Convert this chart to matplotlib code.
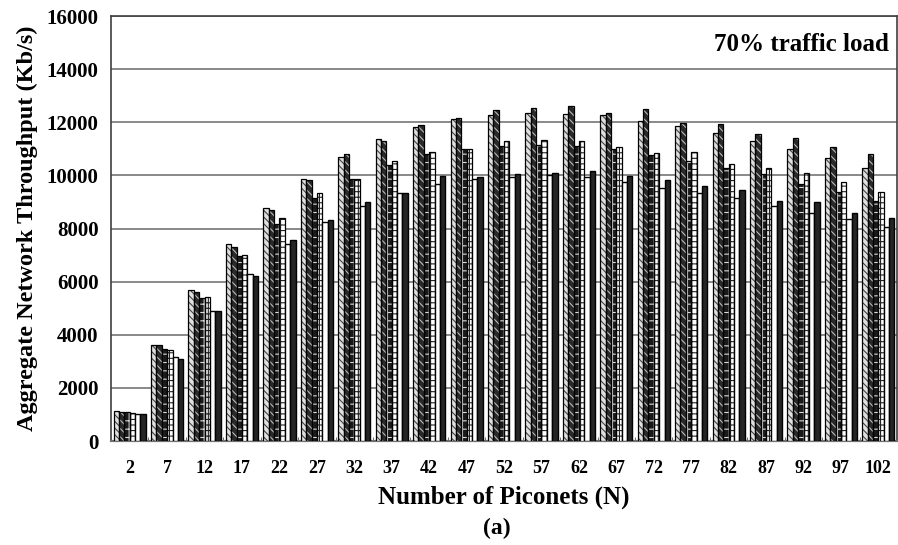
import matplotlib
matplotlib.use("Agg")
import matplotlib.pyplot as plt
import numpy as np

# Number of piconets (x categories)
piconets = [2, 7, 12, 17, 22, 27, 32, 37, 42, 47, 52, 57, 62, 67, 72, 77, 82, 87, 92, 97, 102]

# Aggregate throughput (Kb/s), six schemes per group
s1 = [1130, 3620, 5700, 7400, 8780, 9870, 10700, 11360, 11830, 12120, 12270, 12350, 12300,
      12270, 12050, 11870, 11590, 11300, 10990, 10640, 10270]
s2 = [1110, 3600, 5620, 7290, 8700, 9830, 10800, 11310, 11900, 12170, 12460, 12550, 12620,
      12360, 12510, 11990, 11940, 11560, 11400, 11060, 10790]
s3 = [1090, 3450, 5380, 6970, 8160, 9140, 9850, 10390, 10790, 10990, 11120, 11150, 11100,
      10980, 10770, 10550, 10290, 10050, 9680, 9390, 9040]
s4 = [1060, 3430, 5420, 6990, 8410, 9330, 9850, 10550, 10890, 10990, 11310, 11350, 11300,
      11060, 10830, 10870, 10430, 10290, 10100, 9760, 9380]
s5 = [1010, 3170, 4900, 6290, 7410, 8250, 8850, 9330, 9660, 9860, 9930, 10030, 9950,
      9740, 9540, 9350, 9140, 8850, 8600, 8350, 8050]
s6 = [1000, 3090, 4900, 6210, 7560, 8320, 8990, 9330, 9980, 9930, 10050, 10080, 10150,
      9990, 9830, 9590, 9450, 9050, 8990, 8600, 8390]

series = [s1, s2, s3, s4, s5, s6]
# (face colour, hatch, hatch colour)
styles = [
    ("#e0e0e0", "\\\\\\\\\\", "#444444"),
    ("#2a2a2a", "\\\\\\\\", "#bbbbbb"),
    ("#1a1a1a", "++", "#dddddd"),
    ("white", "+++", "#222222"),
    ("white", None, None),
    ("#252525", None, None),
]

plt.rcParams['font.family'] = ['Liberation Serif', 'DejaVu Serif']
plt.rcParams['font.weight'] = 'bold'
plt.rcParams['hatch.linewidth'] = 0.8

fig = plt.figure(figsize=(8.98, 5.45), dpi=100)
ax = fig.add_axes([0.1236, 0.1908, 0.8754, 0.7798])

x = np.arange(len(piconets))
n = len(series)
group_w = 0.86
w = group_w / n

for i, (vals, (fc, hatch, hc)) in enumerate(zip(series, styles)):
    pos = x - group_w / 2 + w * (i + 0.5)
    if hatch:
        # hatch takes the edge colour, so draw the outline separately
        ax.bar(pos, vals, w, color=fc, hatch=hatch, edgecolor=hc, linewidth=0, zorder=3)
        ax.bar(pos, vals, w, fill=False, edgecolor="black", linewidth=0.9, zorder=4)
    else:
        ax.bar(pos, vals, w, color=fc, edgecolor="black", linewidth=1.0, zorder=4)

ax.set_ylim(0, 16000)
ax.set_xlim(-0.5, len(piconets) - 0.5)
ax.set_yticks(np.arange(0, 16001, 2000))
ax.set_xticks(x)
ax.set_xticklabels([str(p) for p in piconets])
ax.set_xticks(np.arange(0.5, len(piconets) - 0.5, 1), minor=True)
ax.tick_params(axis='x', which='major', length=0, labelsize=13, pad=14)
ax.tick_params(axis='x', which='minor', length=3, direction='in', color='#555555')
ax.tick_params(axis='y', length=0, labelsize=15, pad=9)

ax.yaxis.grid(True, color='#808080', linewidth=1.3, zorder=0)
ax.set_axisbelow(True)
for sp in ax.spines.values():
    sp.set_color('#404040')
    sp.set_linewidth(1.2)
ax.spines['bottom'].set_color('#707070')
ax.spines['bottom'].set_linewidth(1.6)

ax.set_ylabel('Aggregate Network Throughput (Kb/s)', fontsize=17.5, fontweight='bold', labelpad=6)
ax.set_xlabel('Number of Piconets (N)', fontsize=18, fontweight='bold', labelpad=6)
fig.text(0.5535, 0.02, '(a)', ha='center', fontsize=17, fontweight='bold')
ax.text(0.99, 0.96, '70% traffic load', transform=ax.transAxes, ha='right', va='top',
        fontsize=18, fontweight='bold')

fig.savefig('out.png', dpi=100)
